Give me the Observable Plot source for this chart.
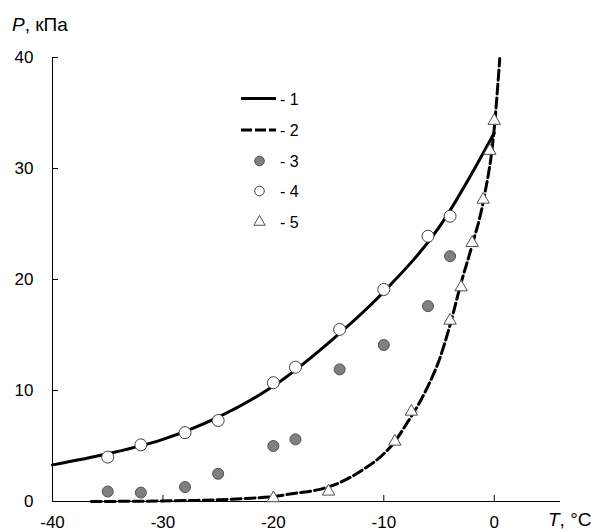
<!DOCTYPE html>
<html><head><meta charset="utf-8">
<script src="https://cdn.jsdelivr.net/npm/d3@7"></script>
<script src="https://cdn.jsdelivr.net/npm/@observablehq/plot@0.6"></script>
<style>
body{margin:0;background:#fff}
#chart{width:595px;height:532px;overflow:hidden}
</style>
</head><body><div id="chart"></div>
<script>
// ---- data ----
const xTicks = [-40, -30, -20, -10, 0];
const yTicks = [0, 10, 20, 30, 40];

// curve 1 (solid)
const curve1T = [-40, -35, -30, -25, -20, -15, -10, -5, 0];
const curve1P = [3.3, 4.3, 5.6, 7.6, 10.4, 14.3, 18.9, 24.7, 33.2];

// curve 2 (dashed)
const curve2T = [-36.5, -33, -30, -27, -25, -22, -20, -18, -16, -14, -12, -10, -9, -8, -7, -6, -5, -4, -3, -2, -1, 0, 0.5];
const curve2P = [0.0, 0.02, 0.05, 0.1, 0.15, 0.3, 0.45, 0.75, 1.05, 1.7, 2.8, 4.3, 5.4, 6.9, 8.5, 10.4, 12.7, 15.9, 19.7, 23.1, 27.0, 33.6, 39.9];

// series 3 (filled circles)
const s3T = [-35, -32, -28, -25, -20, -18, -14, -10, -6, -4];
const s3P = [0.9, 0.8, 1.3, 2.5, 5.0, 5.6, 11.9, 14.1, 17.6, 22.1];

// series 4 (open circles)
const s4T = [-35, -32, -28, -25, -20, -18, -14, -10, -6, -4];
const s4P = [4.0, 5.1, 6.2, 7.3, 10.7, 12.1, 15.5, 19.1, 23.9, 25.7];

// series 5 (open triangles)
const s5T = [-20, -15, -9, -7.5, -4, -3, -2, -1, -0.4, 0];
const s5P = [0.3, 0.9, 5.4, 8.1, 16.3, 19.3, 23.3, 27.2, 31.6, 34.3];

const legendLabels = ["- 1", "- 2", "- 3", "- 4", "- 5"];
const yTitle = ["P", ", кПа"];
const xTitle = ["T", ", °C"];

// ---- build tables ----
const zip = (a, b) => a.map((t, i) => ({t, p: b[i]}));
const line1 = zip(curve1T, curve1P);
const line2 = zip(curve2T, curve2P);
const pts3 = zip(s3T, s3P);
const pts4 = zip(s4T, s4P);
const pts5 = zip(s5T, s5P);

const font = "Liberation Sans, Arial, sans-serif";
const grayFill = "#808080", grayStroke = "#505050", openStroke = "#404040";
const fmt = d => String(d); // hyphen-minus like the reference

const plot = Plot.plot({
  width: 595, height: 532,
  marginTop: 57, marginBottom: 31, marginLeft: 52, marginRight: 35,
  style: {fontFamily: font, fontSize: "17px", color: "#000", background: "#fff", overflow: "visible"},
  x: {domain: [-40, 6]},
  y: {domain: [0, 40]},
  marks: [
    Plot.ruleY([0], {stroke: "#000", strokeWidth: 1}),
    Plot.ruleX([-40], {stroke: "#000", strokeWidth: 1}),
    Plot.axisX({ticks: xTicks, tickSize: -6, fill: "none", label: null, stroke: "#000"}),
    Plot.axisY({ticks: yTicks, tickSize: -6, fill: "none", label: null, stroke: "#000"}),
    Plot.axisX({ticks: xTicks, tickFormat: fmt, tickSize: 0, tickPadding: 14, label: null, fontSize: 17, fill: "#000"}),
    Plot.axisY({ticks: yTicks, tickFormat: fmt, tickSize: 0, tickPadding: 19, label: null, fontSize: 17, fill: "#000"}),
    Plot.line(line1, {x: "t", y: "p", stroke: "#000", strokeWidth: 3, curve: "monotone-x"}),
    Plot.line(line2, {x: "t", y: "p", stroke: "#000", strokeWidth: 3, strokeDasharray: "10,4", curve: "monotone-x"}),
    Plot.dot(pts3, {x: "t", y: "p", r: 5.5, fill: grayFill, stroke: grayStroke, strokeWidth: 1}),
    Plot.dot(pts4, {x: "t", y: "p", r: 6, fill: "#fff", stroke: openStroke, strokeWidth: 1}),
    Plot.dot(pts5, {x: "t", y: "p", r: 4.6, symbol: "triangle", fill: "#fff", stroke: "#505050", strokeWidth: 1})
  ]
});

document.getElementById("chart").appendChild(plot);

// ---- axis titles (with italic variable names) ----
const svg = d3.select(plot);
const ty = svg.append("text").attr("x", 12).attr("y", 30.5).attr("text-anchor", "start")
  .style("font-family", font).attr("font-size", 19).attr("fill", "#000");
ty.append("tspan").attr("font-style", "italic").text(yTitle[0]);
ty.append("tspan").text(yTitle[1]);

const tx = svg.append("text").attr("x", 548).attr("y", 526).attr("text-anchor", "start")
  .style("font-family", font).attr("font-size", 19).attr("fill", "#000");
tx.append("tspan").attr("font-style", "italic").text(xTitle[0]);
tx.append("tspan").text(xTitle[1]);

// ---- legend ----
const lg = svg.append("g").style("font-family", font).attr("font-size", 16).attr("fill", "#000")
  .attr("text-anchor", "start");
const rowsY = [98.5, 130, 161, 191, 222];
const symX = 259.5, lineX0 = 241, lineX1 = 276, textX = 280;
lg.append("line").attr("x1", lineX0).attr("x2", lineX1).attr("y1", rowsY[0]).attr("y2", rowsY[0])
  .attr("stroke", "#000").attr("stroke-width", 3);
lg.append("line").attr("x1", lineX0).attr("x2", lineX1).attr("y1", rowsY[1]).attr("y2", rowsY[1])
  .attr("stroke", "#000").attr("stroke-width", 3).attr("stroke-dasharray", "11,3");
lg.append("circle").attr("cx", symX).attr("cy", rowsY[2]).attr("r", 4.8)
  .attr("fill", grayFill).attr("stroke", grayStroke);
lg.append("circle").attr("cx", symX).attr("cy", rowsY[3]).attr("r", 4.8)
  .attr("fill", "#fff").attr("stroke", openStroke);
lg.append("path").attr("transform", `translate(${symX},${rowsY[4]})`)
  .attr("d", d3.symbol(d3.symbolTriangle, Math.PI * 4.2 * 4.2)())
  .attr("fill", "#fff").attr("stroke", "#505050");
legendLabels.forEach((s, i) => {
  lg.append("text").attr("x", textX).attr("y", rowsY[i] + 6).text(s);
});
</script>
</body></html>
